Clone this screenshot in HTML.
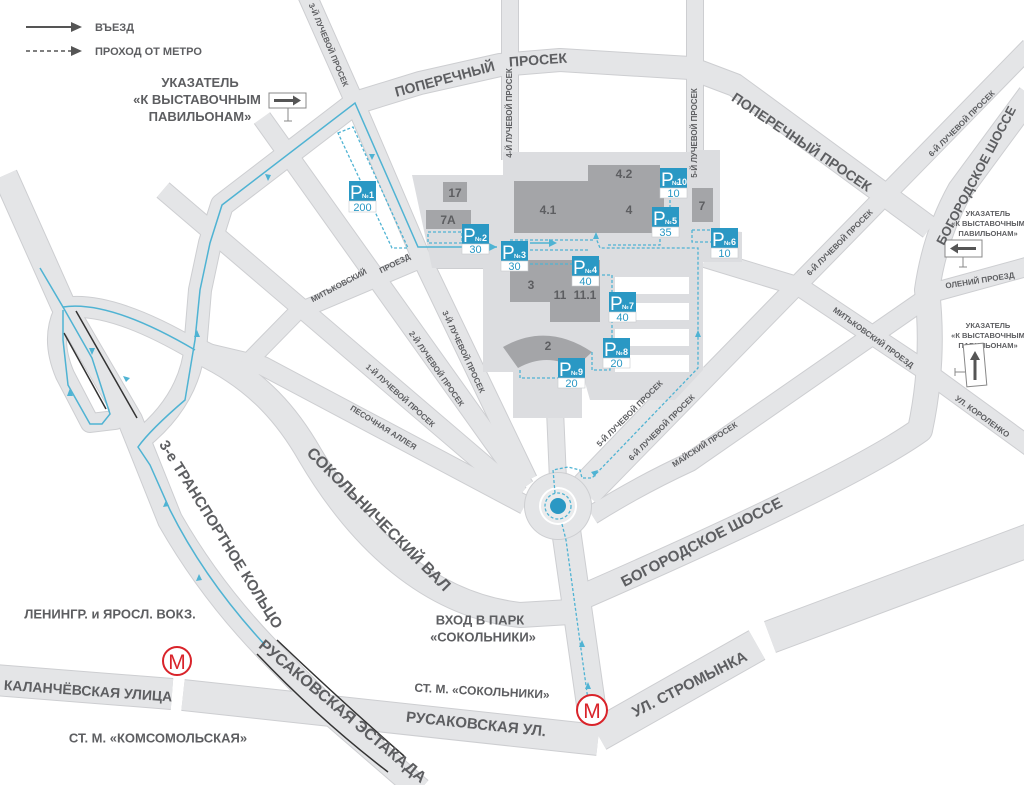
<!DOCTYPE html>
<html><head><meta charset="utf-8"><style>
html,body{margin:0;padding:0;background:#fff}
svg{display:block}
text{font-family:"Liberation Sans",sans-serif;font-weight:bold;fill:#5d5e61}
.s{font-size:8px}
.m{font-size:13px}
.b{font-size:15px}
.pn{font-size:19px;fill:#fff;font-weight:normal}
.pno{font-size:6px;fill:#fff}
.pc{font-size:11px;fill:#2a98c4;font-weight:normal}
.bn{font-size:12px;fill:#fff}
.r path{fill:none;stroke-linejoin:round}
.e path{stroke:#cdced1}
.f path{stroke:#e4e5e7}
.f .w16{stroke-width:16}.e .w16{stroke-width:18}
.f .w18{stroke-width:18}.e .w18{stroke-width:20}
.f .w20{stroke-width:20}.e .w20{stroke-width:22}
.f .w22{stroke-width:22}.e .w22{stroke-width:24}
.f .w24{stroke-width:24}.e .w24{stroke-width:26}
.f .w28{stroke-width:28}.e .w28{stroke-width:30}
.f .w30{stroke-width:30}.e .w30{stroke-width:32}
.f .w32{stroke-width:32}.e .w32{stroke-width:34}
</style></head><body>
<svg width="1024" height="785" viewBox="0 0 1024 785" xmlns="http://www.w3.org/2000/svg">

<g class="r e">
  <path class="w24" d="M5,175 L63,305 L130,420 Q150,470 170,520 Q210,590 268,650 L330,712 L420,790"/>
  <path class="w20" d="M63,308 Q110,300 195,350"/>
  <path class="w18" d="M63,312 Q50,340 65,375 L90,423 L115,420 L120,410"/>
  <path class="w20" d="M195,345 Q190,400 140,440"/>
  <path class="w22" d="M195,350 L200,290 L210,243 L222,205 L355,103 L420,83 L500,65 L560,60 L690,68 L735,85 L930,228"/>
  <path class="w18" d="M307,-5 L355,103 L420,255 L528,480"/>
  <path class="w18" d="M262,118 L525,487"/>
  <path class="w18" d="M163,190 L520,495"/>
  <path class="w18" d="M195,350 L263,366 L525,505"/>
  <path class="w16" d="M250,360 L297,312 L420,260 L495,260"/>
  <path class="w24" d="M200,352 C260,380 290,420 310,455 C360,540 430,605 520,615 L570,612"/>
  <path class="w16" d="M510,-5 L510,160"/>
  <path class="w16" d="M695,-5 L695,160"/>
  <path class="w18" d="M698,362 L580,485"/>
  <path class="w18" d="M1030,47 L590,497"/>
  <path class="w18" d="M592,515 Q640,485 690,462 L935,292 L1030,266"/>
  <path class="w18" d="M705,258 L800,287 L920,367 L1030,447"/>
  <path class="w24" d="M1030,95 L960,190 Q935,235 927,290 Q935,360 920,430 Q850,480 580,598"/>
  <path class="w28" d="M566,530 L592,712"/>
  <path class="w16" d="M555,410 L558,480"/>
  <path class="w30" d="M-5,680 L172,694 M183,695 L598,740"/>
  <path class="w32" d="M598,735 L757,645 M770,637 L1030,540"/>
</g>
<g class="r f">
  <path class="w24" d="M5,175 L63,305 L130,420 Q150,470 170,520 Q210,590 268,650 L330,712 L420,790"/>
  <path class="w20" d="M63,308 Q110,300 195,350"/>
  <path class="w18" d="M63,312 Q50,340 65,375 L90,423 L115,420 L120,410"/>
  <path class="w20" d="M195,345 Q190,400 140,440"/>
  <path class="w22" d="M195,350 L200,290 L210,243 L222,205 L355,103 L420,83 L500,65 L560,60 L690,68 L735,85 L930,228"/>
  <path class="w18" d="M307,-5 L355,103 L420,255 L528,480"/>
  <path class="w18" d="M262,118 L525,487"/>
  <path class="w18" d="M163,190 L520,495"/>
  <path class="w18" d="M195,350 L263,366 L525,505"/>
  <path class="w16" d="M250,360 L297,312 L420,260 L495,260"/>
  <path class="w24" d="M200,352 C260,380 290,420 310,455 C360,540 430,605 520,615 L570,612"/>
  <path class="w16" d="M510,-5 L510,160"/>
  <path class="w16" d="M695,-5 L695,160"/>
  <path class="w18" d="M698,362 L580,485"/>
  <path class="w18" d="M1030,47 L590,497"/>
  <path class="w18" d="M592,515 Q640,485 690,462 L935,292 L1030,266"/>
  <path class="w18" d="M705,258 L800,287 L920,367 L1030,447"/>
  <path class="w24" d="M1030,95 L960,190 Q935,235 927,290 Q935,360 920,430 Q850,480 580,598"/>
  <path class="w28" d="M566,530 L592,712"/>
  <path class="w16" d="M555,410 L558,480"/>
  <path class="w30" d="M-5,680 L172,694 M183,695 L598,740"/>
  <path class="w32" d="M598,735 L757,645 M770,637 L1030,540"/>
</g>

<!-- roundabout -->
<circle cx="558" cy="506" r="34" fill="#cdced1"/>
<circle cx="558" cy="506" r="33" fill="#e4e5e7"/>
<circle cx="558" cy="506" r="19" fill="#fff"/>
<circle cx="558" cy="506" r="17" fill="#eaebec"/>
<circle cx="558" cy="506" r="8" fill="#2a98c4"/>

<!-- exhibition grounds -->
<path d="M412,175 L503,175 L503,152 L718,152 L718,230 L742,232 L742,262 L703,262 L703,370 L675,400 L590,400 L582,372 L582,418 L513,418 L513,372 L483,372 L483,268 L432,268 L412,175 Z" fill="#dcdde0"/>
<path d="M690,150 L720,150 L720,262 L690,262 Z" fill="#dcdde0"/>
<rect x="615" y="277" width="74" height="17" fill="#fff"/>
<rect x="615" y="303" width="74" height="17" fill="#fff"/>
<rect x="615" y="329" width="74" height="17" fill="#fff"/>
<rect x="615" y="355" width="74" height="17" fill="#fff"/>

<!-- buildings -->
<g fill="#a4a5a8">
<rect x="443" y="182" width="24" height="20"/>
<rect x="426" y="210" width="45" height="19"/>
<rect x="514" y="181" width="150" height="52"/>
<rect x="588" y="165" width="72" height="18"/>
<rect x="692" y="188" width="21" height="34"/>
<rect x="510" y="260" width="90" height="42"/>
<rect x="550" y="260" width="50" height="62"/>
<path d="M503,347 Q547,322 592,352 L575,368 Q547,352 518,368 Z"/>
</g>
<g class="bn" text-anchor="middle">
<text x="455" y="197">17</text>
<text x="448" y="224">7A</text>
<text x="548" y="214">4.1</text>
<text x="629" y="214">4</text>
<text x="624" y="178">4.2</text>
<text x="702" y="210">7</text>
<text x="531" y="289">3</text>
<text x="560" y="299">11</text>
<text x="585" y="299">11.1</text>
<text x="548" y="350">2</text>
</g>

<!-- black edges on estakada -->
<g stroke="#333" stroke-width="1.5" fill="none">
<path d="M76,311 L137,418"/><path d="M64,333 L106,409"/>
<path d="M257,654 Q320,720 388,772"/><path d="M277,640 Q340,700 404,756"/>
</g>

<!-- blue solid routes -->
<g stroke="#4fb3d3" stroke-width="1.5" fill="none">
<path d="M40,268 L63,307 Q110,300 195,350"/>
<path d="M63,307 L92,358 L110,414 L102,424 L90,424 L68,385 L63,340 L63,310"/>
<path d="M265,645 Q205,580 170,510 L150,465 L138,447 Q150,430 185,400 L195,340 L200,290 L210,243 L222,205 L355,103 L418,247 L497,247"/>
<path d="M530,243 L552,243"/>
</g>
<g fill="#4fb3d3">
<path d="M268,181 l-3,-7 l6,1z"/>
<path d="M372,160 l-3,-6 l6,0z"/>
<path d="M497,247 l-8,-4 l0,8z"/>
<path d="M557,243 l-8,-4 l0,8z"/>
<path d="M197,330 l-3,7 l6,0z"/>
<path d="M92,355 l-3,-7 l6,0z"/>
<path d="M130,378 l-7,-2 l3,6z"/>
<path d="M70,388 l-3,8 l6,0z"/>
<path d="M166,500 l-3,7 l6,-1z"/>
<path d="M199,574 l-3,7 l6,-1z"/>
</g>

<!-- dashed blue -->
<g stroke="#4fb3d3" stroke-width="1.3" fill="none" stroke-dasharray="3,2">
<path d="M588,700 L566,540 L562,524"/>
<circle cx="558" cy="506" r="13"/>
<path d="M555,493 L553,470 L568,467 L580,470 L582,478 L592,478 L698,368 L698,248 L600,248 L596,238"/>
<path d="M338,133 L353,127 L408,248 L392,248 Z"/>
<path d="M428,232 L462,232 L462,243 L428,243 Z"/>
<path d="M510,250 L590,250 M510,250 L510,240 L595,240"/>
<path d="M530,264 L580,264 L580,258"/>
<path d="M602,275 L612,275 L612,345 L605,345"/>
<path d="M592,352 L592,370 L610,370 L610,362"/>
<path d="M520,370 L520,378 L558,378"/>
<path d="M608,245 L660,245 L660,233 M670,190 L670,220 L680,220"/>
<path d="M692,230 L712,230 M692,230 L692,242 L712,242"/>
</g>
<g fill="#4fb3d3">
<path d="M582,640 l-3,7 l6,0z"/>
<path d="M588,682 l-3,7 l6,0z"/>
<path d="M598,470 l-7,2 l4,5z"/>
<path d="M698,330 l-3,7 l6,0z"/>
<path d="M596,232 l-3,7 l6,0z"/>
</g>

<!-- parking signs -->
<g>
<g transform="translate(349,181)"><rect width="27" height="20" fill="#2a98c4"/><rect y="20" width="27" height="11" fill="#fff" stroke="#c9cacd" stroke-width=".6"/><text class="pn" x="1" y="18">P</text><text class="pno" x="13" y="17">№</text><text class="bn" x="20" y="17" style="font-size:9px">1</text><text class="pc" x="13.5" y="30" text-anchor="middle">200</text></g>
<g transform="translate(462,224)"><rect width="27" height="20" fill="#2a98c4"/><rect y="20" width="27" height="10" fill="#fff" stroke="#c9cacd" stroke-width=".6"/><text class="pn" x="1" y="18">P</text><text class="pno" x="13" y="17">№</text><text class="bn" x="20" y="17" style="font-size:9px">2</text><text class="pc" x="13.5" y="29" text-anchor="middle">30</text></g>
<g transform="translate(501,241)"><rect width="27" height="20" fill="#2a98c4"/><rect y="20" width="27" height="10" fill="#fff" stroke="#c9cacd" stroke-width=".6"/><text class="pn" x="1" y="18">P</text><text class="pno" x="13" y="17">№</text><text class="bn" x="20" y="17" style="font-size:9px">3</text><text class="pc" x="13.5" y="29" text-anchor="middle">30</text></g>
<g transform="translate(572,256)"><rect width="27" height="20" fill="#2a98c4"/><rect y="20" width="27" height="10" fill="#fff" stroke="#c9cacd" stroke-width=".6"/><text class="pn" x="1" y="18">P</text><text class="pno" x="13" y="17">№</text><text class="bn" x="20" y="17" style="font-size:9px">4</text><text class="pc" x="13.5" y="29" text-anchor="middle">40</text></g>
<g transform="translate(652,207)"><rect width="27" height="20" fill="#2a98c4"/><rect y="20" width="27" height="10" fill="#fff" stroke="#c9cacd" stroke-width=".6"/><text class="pn" x="1" y="18">P</text><text class="pno" x="13" y="17">№</text><text class="bn" x="20" y="17" style="font-size:9px">5</text><text class="pc" x="13.5" y="29" text-anchor="middle">35</text></g>
<g transform="translate(711,228)"><rect width="27" height="20" fill="#2a98c4"/><rect y="20" width="27" height="10" fill="#fff" stroke="#c9cacd" stroke-width=".6"/><text class="pn" x="1" y="18">P</text><text class="pno" x="13" y="17">№</text><text class="bn" x="20" y="17" style="font-size:9px">6</text><text class="pc" x="13.5" y="29" text-anchor="middle">10</text></g>
<g transform="translate(609,292)"><rect width="27" height="20" fill="#2a98c4"/><rect y="20" width="27" height="10" fill="#fff" stroke="#c9cacd" stroke-width=".6"/><text class="pn" x="1" y="18">P</text><text class="pno" x="13" y="17">№</text><text class="bn" x="20" y="17" style="font-size:9px">7</text><text class="pc" x="13.5" y="29" text-anchor="middle">40</text></g>
<g transform="translate(603,338)"><rect width="27" height="20" fill="#2a98c4"/><rect y="20" width="27" height="10" fill="#fff" stroke="#c9cacd" stroke-width=".6"/><text class="pn" x="1" y="18">P</text><text class="pno" x="13" y="17">№</text><text class="bn" x="20" y="17" style="font-size:9px">8</text><text class="pc" x="13.5" y="29" text-anchor="middle">20</text></g>
<g transform="translate(558,358)"><rect width="27" height="20" fill="#2a98c4"/><rect y="20" width="27" height="10" fill="#fff" stroke="#c9cacd" stroke-width=".6"/><text class="pn" x="1" y="18">P</text><text class="pno" x="13" y="17">№</text><text class="bn" x="20" y="17" style="font-size:9px">9</text><text class="pc" x="13.5" y="29" text-anchor="middle">20</text></g>
<g transform="translate(660,168)"><rect width="27" height="20" fill="#2a98c4"/><rect y="20" width="27" height="10" fill="#fff" stroke="#c9cacd" stroke-width=".6"/><text class="pn" x="1" y="18">P</text><text class="pno" x="12" y="17">№</text><text class="bn" x="17" y="17" style="font-size:9px">10</text><text class="pc" x="13.5" y="29" text-anchor="middle">10</text></g>
</g>

<!-- legend -->
<line x1="26" y1="27" x2="72" y2="27" stroke="#555" stroke-width="2"/>
<path d="M82,27 l-11,-5 l0,10z" fill="#555"/>
<line x1="26" y1="51" x2="72" y2="51" stroke="#555" stroke-width="1.5" stroke-dasharray="4,3"/>
<path d="M82,51 l-11,-5 l0,10z" fill="#555"/>
<text x="95" y="31" style="font-size:11px">ВЪЕЗД</text>
<text x="95" y="55" style="font-size:11px">ПРОХОД ОТ МЕТРО</text>

<!-- left sign -->
<g class="m" text-anchor="middle">
<text x="200" y="87">УКАЗАТЕЛЬ</text>
<text x="197" y="104">«К ВЫСТАВОЧНЫМ</text>
<text x="200" y="121">ПАВИЛЬОНАМ»</text>
</g>
<rect x="269" y="93" width="37" height="15" fill="#fff" stroke="#888" stroke-width="1"/>
<path d="M274,100.5 L295,100.5" stroke="#555" stroke-width="3"/><path d="M301,100.5 l-8,-5 l0,10z" fill="#555"/>
<path d="M288,108 L288,121 M284,121 L292,121" stroke="#888" stroke-width="1"/>

<!-- right signs -->
<g class="s" text-anchor="middle" style="font-size:7.5px">
<text x="988" y="216">УКАЗАТЕЛЬ</text>
<text x="988" y="226">«К ВЫСТАВОЧНЫМ</text>
<text x="988" y="236">ПАВИЛЬОНАМ»</text>
<text x="988" y="328">УКАЗАТЕЛЬ</text>
<text x="988" y="338">«К ВЫСТАВОЧНЫМ</text>
<text x="988" y="348">ПАВИЛЬОНАМ»</text>
</g>
<rect x="945" y="240" width="37" height="17" fill="#fff" stroke="#888"/>
<path d="M956,248.5 L976,248.5" stroke="#555" stroke-width="3"/><path d="M950,248.5 l8,-5 l0,10z" fill="#555"/>
<path d="M963,257 L963,267 M959,267 L967,267" stroke="#888"/>
<rect x="965" y="344" width="20" height="42" fill="#fff" stroke="#888" transform="rotate(-5 975 365)"/>
<path d="M975,358 L975,380" stroke="#555" stroke-width="3"/><path d="M975,351 l-5,9 l10,0z" fill="#555"/>
<path d="M965,372 L955,372 M955,368 L955,376" stroke="#888"/>

<!-- metro -->
<g>
<circle cx="177" cy="661" r="14" fill="#fff" stroke="#d9232a" stroke-width="2"/>
<text x="177" y="669" text-anchor="middle" style="font-size:21px;fill:#d9232a;font-weight:normal">М</text>
<circle cx="592" cy="710" r="15" fill="#fff" stroke="#d9232a" stroke-width="2"/>
<text x="592" y="718" text-anchor="middle" style="font-size:21px;fill:#d9232a;font-weight:normal">М</text>
</g>

<!-- road labels -->
<g text-anchor="middle" dominant-baseline="middle">
<text class="b" style="font-size:14px" transform="translate(445,80) rotate(-15)">ПОПЕРЕЧНЫЙ</text>
<text class="b" style="font-size:14px" transform="translate(538,61) rotate(-4)">ПРОСЕК</text>
<text class="s" transform="translate(328,45) rotate(67)">3-Й ЛУЧЕВОЙ ПРОСЕК</text>
<text class="s" transform="translate(510,113) rotate(-90)">4-Й ЛУЧЕВОЙ ПРОСЕК</text>
<text class="s" transform="translate(695,133) rotate(-90)">5-Й ЛУЧЕВОЙ ПРОСЕК</text>
<text class="b" style="font-size:14px" transform="translate(801,143) rotate(34)">ПОПЕРЕЧНЫЙ ПРОСЕК</text>
<text class="s" transform="translate(962,124) rotate(-45)">6-Й ЛУЧЕВОЙ ПРОСЕК</text>
<text class="s" transform="translate(840,243) rotate(-45)">6-Й ЛУЧЕВОЙ ПРОСЕК</text>
<text class="m" transform="translate(977,176) rotate(-62)">БОГОРОДСКОЕ ШОССЕ</text>
<text class="s" transform="translate(980,281) rotate(-9)">ОЛЕНИЙ ПРОЕЗД</text>
<text class="s" transform="translate(873,338) rotate(36)">МИТЬКОВСКИЙ ПРОЕЗД</text>
<text class="s" transform="translate(982,417) rotate(36)">УЛ. КОРОЛЕНКО</text>
<text class="s" transform="translate(339,286) rotate(-28)">МИТЬКОВСКИЙ</text>
<text class="s" transform="translate(395,264) rotate(-27)">ПРОЕЗД</text>
<text class="s" transform="translate(400,396) rotate(42)">1-Й ЛУЧЕВОЙ ПРОСЕК</text>
<text class="s" transform="translate(436,369) rotate(55)">2-Й ЛУЧЕВОЙ ПРОСЕК</text>
<text class="s" transform="translate(463,352) rotate(65)">3-Й ЛУЧЕВОЙ ПРОСЕК</text>
<text class="s" transform="translate(383,428) rotate(32)">ПЕСОЧНАЯ АЛЛЕЯ</text>
<text class="s" transform="translate(630,414) rotate(-45)">5-Й ЛУЧЕВОЙ ПРОСЕК</text>
<text class="s" transform="translate(662,428) rotate(-45)">6-Й ЛУЧЕВОЙ ПРОСЕК</text>
<text class="s" transform="translate(705,445) rotate(-33)">МАЙСКИЙ ПРОСЕК</text>
<text class="b" style="font-size:16px" transform="translate(378,520) rotate(45)">СОКОЛЬНИЧЕСКИЙ ВАЛ</text>
<text class="b" transform="translate(220,535) rotate(58)">3-е ТРАНСПОРТНОЕ КОЛЬЦО</text>
<text class="b" style="font-size:16px" transform="translate(342,712) rotate(40)">РУСАКОВСКАЯ  ЭСТАКАДА</text>
<text class="b" transform="translate(476,725) rotate(6)">РУСАКОВСКАЯ УЛ.</text>
<text class="b" transform="translate(690,685) rotate(-27)">УЛ. СТРОМЫНКА</text>
<text class="b" transform="translate(702,543) rotate(-27)">БОГОРОДСКОЕ ШОССЕ</text>
<text class="m" style="font-size:14px" transform="translate(88,692) rotate(4)">КАЛАНЧЁВСКАЯ УЛИЦА</text>
<text class="m" x="110" y="615">ЛЕНИНГР. и ЯРОСЛ. ВОКЗ.</text>
<text class="m" x="158" y="739">СТ. М. «КОМСОМОЛЬСКАЯ»</text>
<text class="m" style="font-size:12px" transform="translate(482,692) rotate(3)">СТ. М. «СОКОЛЬНИКИ»</text>
<text class="m" x="480" y="621">ВХОД В ПАРК</text>
<text class="m" x="483" y="638">«СОКОЛЬНИКИ»</text>
</g>
</svg>
</body></html>
